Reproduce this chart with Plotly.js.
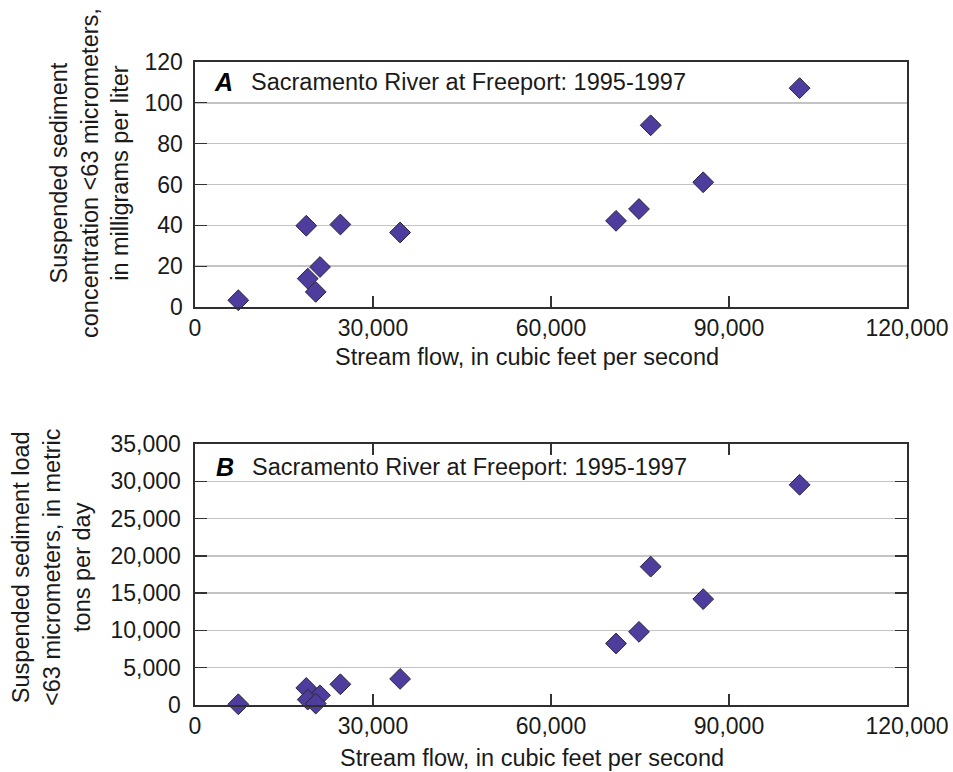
<!DOCTYPE html>
<html>
<head>
<meta charset="utf-8">
<script src="https://cdn.plot.ly/plotly-3.0.1.min.js"></script>
<style>html,body{margin:0;padding:0;background:#fff;}#chart{width:953px;height:772px;}</style>
</head>
<body>
<div id="chart"></div>
<script>
// Data
var streamFlow = [7300, 18750, 24500, 34570, 21070, 19000, 20350, 101900, 76800, 85650, 74830, 70960];
var concentration = [3.3, 39.8, 40.4, 36.5, 19.6, 13.9, 7.4, 107.2, 89.0, 61.1, 48.0, 42.2];
var load = [100, 2285, 2780, 3500, 1300, 725, 190, 29530, 18550, 14200, 9810, 8250];

var xTickVals = [0, 30000, 60000, 90000, 120000];
var xTickText = ["0", "30,000", "60,000", "90,000", "120,000"];
var yATickVals = [0, 20, 40, 60, 80, 100, 120];
var yATickText = ["0", "20", "40", "60", "80", "100", "120"];
var yBTickVals = [0, 5000, 10000, 15000, 20000, 25000, 30000, 35000];
var yBTickText = ["0", "5,000", "10,000", "15,000", "20,000", "25,000", "30,000", "35,000"];

var panelTitle = "Sacramento River at Freeport: 1995-1997";
var xTitle = "Stream flow, in cubic feet per second";
var yATitle = "Suspended sediment<br>concentration &lt;63 micrometers,<br>in milligrams per liter";
var yBTitle = "Suspended sediment load<br>&lt;63 micrometers, in metric<br>tons per day";

// Layout geometry (pixels)
var W = 953, H = 772;
var L = 195, R = 46, T = 62, B = 67;
var plotW = W - L - R, plotH = H - T - B;
function px(x) { return (x - L) / plotW; }
function py(y) { return (H - B - y) / plotH; }

var FONT = "Liberation Sans, Arial, Helvetica, sans-serif";
var TXT = "#1a1a1a";
var markerStyle = {symbol: "diamond", size: 16, color: "#4F3D9E", line: {color: "#2a2540", width: 1}};

var traces = [
  {x: streamFlow, y: concentration, type: "scatter", mode: "markers", marker: markerStyle,
   xaxis: "x", yaxis: "y", cliponaxis: false, hoverinfo: "x+y"},
  {x: streamFlow, y: load, type: "scatter", mode: "markers", marker: markerStyle,
   xaxis: "x2", yaxis: "y2", cliponaxis: false, hoverinfo: "x+y"}
];

function xAxis(anchor, mirror) {
  return {
    anchor: anchor, domain: [0, 1], range: [0, 120000],
    tickmode: "array", tickvals: xTickVals, ticktext: xTickText,
    ticks: "inside", ticklen: 11, tickwidth: 1.3, tickcolor: "#333",
    showgrid: false, zeroline: false, showline: true, linecolor: "#2f2f2f", linewidth: 1.6,
    mirror: mirror, tickfont: {family: FONT, size: 23, color: TXT}, fixedrange: true
  };
}
function yAxis(anchor, domain, range, vals, text, mirror, standoff) {
  return {
    anchor: anchor, domain: domain, range: range,
    tickmode: "array", tickvals: vals, ticktext: text,
    ticks: "inside", ticklen: 12, tickwidth: 1.3, tickcolor: "#333",
    ticklabelstandoff: standoff,
    showgrid: true, gridcolor: "#c4c4c4", gridwidth: 1.4,
    zeroline: false, showline: true, linecolor: "#2f2f2f", linewidth: 1.6,
    mirror: mirror, tickfont: {family: FONT, size: 23, color: TXT}, fixedrange: true
  };
}

var annFont = {family: FONT, size: 23.5, color: TXT};
var annotations = [
  {text: "<b><i>A</i></b>", x: px(223), y: py(82), xref: "paper", yref: "paper", showarrow: false, xanchor: "center", yanchor: "middle", font: {family: FONT, size: 25, color: "#000"}},
  {text: panelTitle, x: px(249), y: py(82), xref: "paper", yref: "paper", showarrow: false, xanchor: "left", yanchor: "middle", font: annFont},
  {text: "<b><i>B</i></b>", x: px(225), y: py(467), xref: "paper", yref: "paper", showarrow: false, xanchor: "center", yanchor: "middle", font: {family: FONT, size: 25, color: "#000"}},
  {text: panelTitle, x: px(250), y: py(467), xref: "paper", yref: "paper", showarrow: false, xanchor: "left", yanchor: "middle", font: annFont},
  {text: xTitle, x: px(527), y: py(357), xref: "paper", yref: "paper", showarrow: false, xanchor: "center", yanchor: "middle", font: annFont},
  {text: xTitle, x: px(532), y: py(758), xref: "paper", yref: "paper", showarrow: false, xanchor: "center", yanchor: "middle", font: annFont},
  {text: yATitle, x: px(89), y: py(173), xref: "paper", yref: "paper", showarrow: false, xanchor: "center", yanchor: "middle", textangle: -90, font: annFont},
  {text: yBTitle, x: px(51), y: py(567), xref: "paper", yref: "paper", showarrow: false, xanchor: "center", yanchor: "middle", textangle: -90, font: annFont}
];

var layout = {
  width: W, height: H,
  margin: {l: L, r: R, t: T, b: B, pad: 0},
  paper_bgcolor: "#fff", plot_bgcolor: "#fff",
  showlegend: false,
  xaxis: xAxis("y", true),
  yaxis: yAxis("x", [py(307), 1], [0, 120], yATickVals, yATickText, true, 6),
  xaxis2: xAxis("y2", "ticks"),
  yaxis2: yAxis("x2", [0, py(444)], [0, 35000], yBTickVals, yBTickText, "ticks", 8),
  annotations: annotations
};

Plotly.newPlot("chart", traces, layout, {displayModeBar: false, staticPlot: true});
</script>
</body>
</html>
